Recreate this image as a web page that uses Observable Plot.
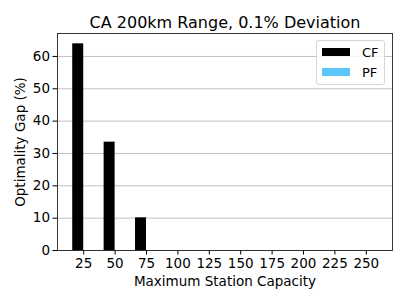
<!DOCTYPE html>
<html><head><meta charset="utf-8">
<script src="https://cdn.jsdelivr.net/npm/d3@7"></script>
<script src="https://cdn.jsdelivr.net/npm/@observablehq/plot@0.6"></script>
<style>
body{margin:0;background:#fff;}
#wrap{position:relative;width:407px;height:305px;font-family:"DejaVu Sans",sans-serif;}
.legend{position:absolute;left:316px;top:40px;width:69px;height:45px;border:1px solid #d5d5d5;border-radius:3px;background:rgba(255,255,255,0.85);box-sizing:border-box;font-size:13px;color:#000;}
.legend .row{position:absolute;left:5px;height:16px;display:flex;align-items:center;}
.legend .sw{width:28px;height:8px;margin-right:12px;}
</style></head><body><div id="wrap"></div>
<script>
const title = "CA 200km Range, 0.1% Deviation";
const xLabel = "Maximum Station Capacity";
const yLabel = "Optimality Gap (%)";
const capacities = [25, 50, 75, 100, 125, 150, 175, 200, 225, 250];
const series = ["CF", "PF"];
const cfValues = [63.9, 33.5, 10.1, 0, 0, 0, 0, 0, 0, 0];
const pfValues = [0, 0, 0, 0, 0, 0, 0, 0, 0, 0];
const seriesColors = ["#000000", "#5ac8fa"];
const yTicks = [0, 10, 20, 30, 40, 50, 60];

const W = 0.35;
const rows = [];
capacities.forEach((c, i) => {
  rows.push({i, series: "CF", value: cfValues[i]});
  rows.push({i, series: "PF", value: pfValues[i]});
});
const yMax = d3.max(rows, d => d.value) * 1.05;
const xPad = (capacities.length - 1 + 2 * W) * 0.05 + W;

const chart = Plot.plot({
  width: 407, height: 305,
  marginLeft: 57, marginRight: 15, marginTop: 33, marginBottom: 55,
  style: {fontFamily: "DejaVu Sans, sans-serif", fontSize: "13.5px", color: "#000", background: "#fff"},
  x: {domain: [-xPad, capacities.length - 1 + xPad]},
  y: {domain: [0, yMax]},
  color: {domain: series, range: seriesColors},
  marks: [
    Plot.gridY(yTicks, {stroke: "#b0b0b0", strokeOpacity: 1, strokeWidth: 0.8}),
    Plot.rectY(rows, {
      x1: d => d.series === "CF" ? d.i - W : d.i,
      x2: d => d.series === "CF" ? d.i : d.i + W,
      y: "value", fill: "series", inset: 0
    }),
    Plot.axisX(d3.range(capacities.length), {tickFormat: i => capacities[i], tickSize: 4.5, tickPadding: 3, label: null, fontSize: 13.5}),
    Plot.axisY(yTicks, {tickSize: 4.5, tickPadding: 3, label: yLabel, labelAnchor: "center", labelArrow: "none", labelOffset: 42, fontSize: 13.5}),
    Plot.frame({stroke: "#222", strokeWidth: 0.9}),
    Plot.text([title], {frameAnchor: "top", dy: -6, lineAnchor: "bottom", fontSize: 16}),
    Plot.text([xLabel], {frameAnchor: "bottom", dy: 35, lineAnchor: "bottom", fontSize: 13.5})
  ]
});
// safety: strip any default label arrows
chart.querySelectorAll("text").forEach(t => {
  if (/[↑→↓←]/.test(t.textContent)) t.textContent = t.textContent.replace(/\s*[↑→↓←]\s*/g, "");
});
const wrap = document.getElementById("wrap");
wrap.appendChild(chart);
const leg = document.createElement("div");
leg.className = "legend";
series.forEach((s, k) => {
  const r = document.createElement("div");
  r.className = "row";
  r.style.top = (3 + k * 20) + "px";
  r.innerHTML = `<span class="sw" style="background:${seriesColors[k]}"></span><span>${s}</span>`;
  leg.appendChild(r);
});
wrap.appendChild(leg);
</script></body></html>
